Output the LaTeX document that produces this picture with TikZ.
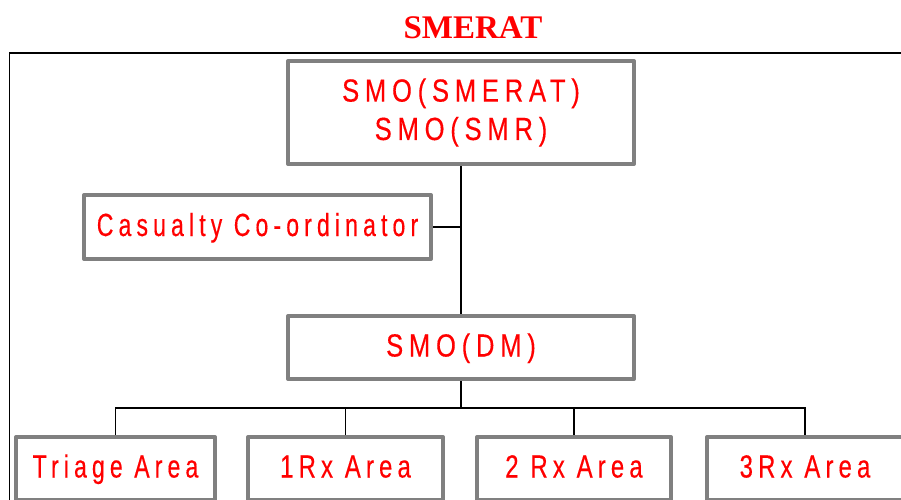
\documentclass[tikz,border=0pt]{standalone}
\usepackage{fontspec}
% condensed, letter-spaced sans for the box labels
\newfontfamily\capsfont[FakeStretch=0.80,FakeBold=0.3,LetterSpace=18]{Liberation Sans}
\newfontfamily\rxfont[FakeStretch=0.75,FakeBold=0.3,LetterSpace=16]{Liberation Sans}
\newfontfamily\lowfont[FakeStretch=0.72,FakeBold=0.3,LetterSpace=16]{Liberation Sans}
\newfontfamily\titlefont{Liberation Serif}
\definecolor{boxgray}{HTML}{808080}
\definecolor{txtred}{HTML}{FF0000}
\tikzset{
  orgbox/.style={draw=boxgray, line width=4pt, line join=round, fill=white,
    inner sep=0pt, text=txtred, align=center},
  oneline/.style={text height=24pt, text depth=6pt},
  capslabel/.style={font=\capsfont\fontsize{32}{38.4}\selectfont},
  rxlabel/.style={font=\rxfont\fontsize{32}{38.4}\selectfont},
  lowlabel/.style={font=\lowfont\fontsize{32}{38.4}\selectfont},
  link/.style={draw=black, line width=1.6pt},
  frameline/.style={draw=black, line width=1.6pt}
}
\begin{document}
\begin{tikzpicture}[x=1pt,y=-1pt]
  \useasboundingbox (0,0) rectangle (901,499);
  \clip (0,0) rectangle (901,499);
  \fill[white] (0,0) rectangle (901,499);

  % heading
  \node[anchor=base, text=txtred, font=\titlefont\bfseries\fontsize{33}{38}\selectfont]
    (title) at (473,38) {SMERAT};

  % surrounding frame (runs past the page edges)
  \draw[frameline] (940,53) -- (9.5,53) -- (9.5,540);

  % boxes
  \node[orgbox, capslabel, minimum width=346pt, minimum height=103pt] (smo) at (461,112.5)
    {SMO(SMERAT)\\SMO(SMR)};
  \node[orgbox, oneline, lowlabel, minimum width=347pt, minimum height=64pt] (cas) at (257.5,227)
    {Casualty Co-ordinator};
  \node[orgbox, oneline, capslabel, minimum width=346pt, minimum height=63pt] (dm) at (461,347.5)
    {SMO(DM)};
  \node[orgbox, oneline, lowlabel, minimum width=199pt, minimum height=63pt] (triage) at (115.5,468.5)
    {Triage Area};
  \node[orgbox, oneline, rxlabel, minimum width=195pt, minimum height=63pt] (rx1) at (345.5,468.5)
    {1Rx Area};
  \node[orgbox, oneline, rxlabel, minimum width=194pt, minimum height=63pt] (rx2) at (574,468.5)
    {2 Rx Area};
  \node[orgbox, oneline, rxlabel, minimum width=196pt, minimum height=63pt] (rx3) at (805,468.5)
    {3Rx Area};

  % connectors
  \coordinate (bus) at (461,408);
  \draw[link] (smo.south) -- (dm.north);
  \draw[link] (cas.east) -- (cas.east -| smo.south);
  \draw[link] (dm.south) -- (bus);
  \draw[link] (triage.north) |- (rx3.north |- bus) -- (rx3.north);
  \draw[link] (rx1.north) -- (rx1.north |- bus);
  \draw[link] (rx2.north) -- (rx2.north |- bus);
\end{tikzpicture}
\end{document}
